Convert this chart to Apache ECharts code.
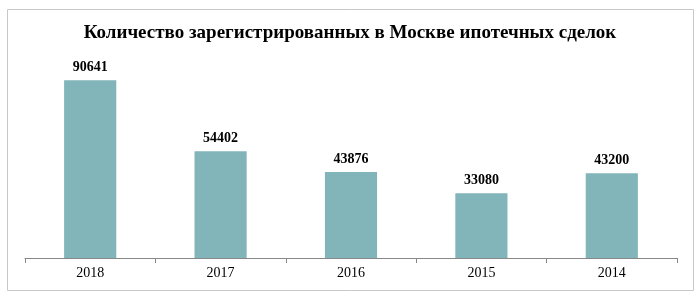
<!DOCTYPE html>
<html><head><meta charset="utf-8">
<script src="https://cdn.jsdelivr.net/npm/echarts@6/dist/echarts.min.js"></script>
<style>html,body{margin:0;padding:0;background:#fff}#c{width:700px;height:300px}</style>
</head><body><div id="c"></div>
<script>
const title = 'Количество зарегистрированных в Москве ипотечных сделок';
const categories = ['2018', '2017', '2016', '2015', '2014'];
const values = [90641, 54402, 43876, 33080, 43200];

const chart = echarts.init(document.getElementById('c'), null, {renderer: 'canvas'});
chart.setOption({
  backgroundColor: '#fff',
  animation: false,
  title: {
    text: title, left: 'center', top: 19,
    textStyle: {fontFamily: 'Liberation Serif', fontWeight: 'bold', fontSize: 19, color: '#000'}
  },
  graphic: [{
    type: 'rect', shape: {x: 7.5, y: 9.5, width: 686, height: 281},
    style: {fill: 'none', stroke: '#c8c8c8', lineWidth: 1}, silent: true
  }],
  grid: {left: 25, right: 23, top: 62, bottom: 42},
  xAxis: {
    type: 'category', data: categories,
    axisLine: {lineStyle: {color: '#888', width: 1}},
    axisTick: {show: true, length: 5, lineStyle: {color: '#888'}},
    axisLabel: {fontFamily: 'Liberation Serif', fontSize: 14, color: '#000', margin: 8}
  },
  yAxis: {
    type: 'value', min: 0, max: 100000, show: false,
    splitLine: {show: false}
  },
  series: [{
    type: 'bar', data: values, barWidth: '40%',
    itemStyle: {color: '#82b5b9'},
    label: {show: true, position: 'top', distance: 6,
      fontFamily: 'Liberation Serif', fontWeight: 'bold', fontSize: 14, color: '#000'}
  }]
});
</script></body></html>
